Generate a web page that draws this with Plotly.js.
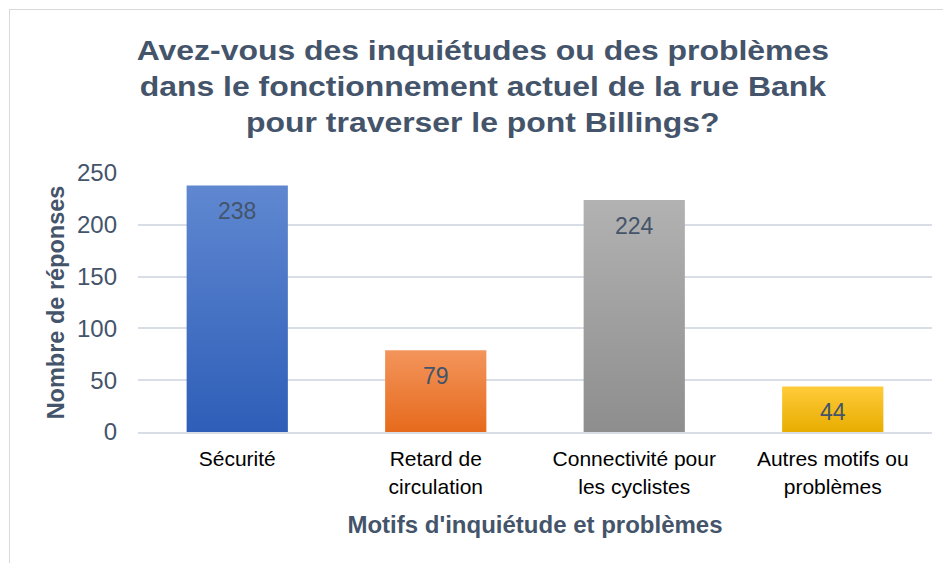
<!DOCTYPE html>
<html>
<head>
<meta charset="utf-8">
<script src="https://cdn.plot.ly/plotly-3.0.1.min.js"></script>
<style>
  html, body { margin: 0; padding: 0; background: #ffffff; }
  #wrap { position: relative; width: 943px; height: 563px; overflow: hidden; }
  #chart { width: 943px; height: 563px; }
  #frame { position: absolute; left: 9px; top: 9px; width: 960px; height: 600px;
           border-left: 1px solid #D9D9D9; border-top: 1px solid #D9D9D9; pointer-events: none; }
</style>
</head>
<body>
<div id="wrap">
  <div id="chart"></div>
  <div id="frame"></div>
</div>
<script>
const categories = ["Sécurité", "Retard de<br>circulation", "Connectivité pour<br>les cyclistes", "Autres motifs ou<br>problèmes"];
const values = [238, 79, 224, 44];
const yTicks = [0, 50, 100, 150, 200, 250];
const barColors = ["#4472C4", "#ED7D31", "#A5A5A5", "#FFC000"];
const gradients = [
  ["#6088D1", "#2E5EB8"],
  ["#F3955C", "#E66A1C"],
  ["#B2B2B2", "#8E8E8E"],
  ["#FFCB3A", "#E8AD00"]
];

const slate = "#44546A";
const font = "Liberation Sans, Arial, sans-serif";

const trace = {
  type: "bar",
  x: categories,
  y: values,
  marker: { color: barColors, line: { width: 0 } },
  hoverinfo: "x+y"
};

const annotations = categories.map((c, i) => ({
  x: c, y: values[i], xref: "x", yref: "y",
  text: String(values[i]), showarrow: false,
  yanchor: "top", yshift: -11,
  font: { family: font, size: 23, color: slate }
}));

const layout = {
  width: 943, height: 563,
  margin: { l: 138, r: 11, t: 173, b: 131 },
  paper_bgcolor: "#ffffff", plot_bgcolor: "#ffffff",
  bargap: 0.49,
  showlegend: false,
  title: {
    text: "Avez-vous des inquiétudes ou des problèmes<br>dans le fonctionnement actuel de la rue Bank<br>pour traverser le pont Billings?",
    font: { family: font, size: 28, color: slate, weight: "bold" },
    xref: "container", x: 0.512, xanchor: "center",
    yref: "container", y: 0.894, yanchor: "top"
  },
  xaxis: {
    type: "category",
    showgrid: false,
    showline: true, linecolor: "#D9DEE6", linewidth: 2,
    ticks: "", ticklabelstandoff: 7,
    tickfont: { family: font, size: 21, color: "#000000" },
    title: { text: "Motifs d'inquiétude et problèmes", standoff: 20,
             font: { family: font, size: 24, color: slate, weight: "bold" } }
  },
  yaxis: {
    range: [0, 250],
    tickvals: yTicks,
    showgrid: true, gridcolor: "#D9DEE6", gridwidth: 2,
    zeroline: false, showline: false,
    ticks: "", ticklabelstandoff: 20,
    tickfont: { family: font, size: 24, color: slate },
    title: { text: "Nombre de réponses", standoff: 5,
             font: { family: font, size: 23.5, color: slate, weight: "bold" } }
  },
  annotations: annotations
};

function applyGradients(gd) {
  const svg = gd.querySelector("svg.main-svg");
  if (!svg) return;
  const ns = "http://www.w3.org/2000/svg";
  let defs = svg.querySelector("defs");
  if (!defs) { defs = document.createElementNS(ns, "defs"); svg.insertBefore(defs, svg.firstChild); }
  gradients.forEach((g, i) => {
    const id = "barGrad" + i;
    if (defs.querySelector("#" + id)) return;
    const lg = document.createElementNS(ns, "linearGradient");
    lg.setAttribute("id", id);
    lg.setAttribute("x1", "0"); lg.setAttribute("y1", "0");
    lg.setAttribute("x2", "0"); lg.setAttribute("y2", "1");
    [[0, g[0]], [1, g[1]]].forEach(([o, c]) => {
      const s = document.createElementNS(ns, "stop");
      s.setAttribute("offset", o); s.setAttribute("stop-color", c);
      lg.appendChild(s);
    });
    defs.appendChild(lg);
  });
  gd.querySelectorAll(".trace.bars .point path").forEach((p, i) => {
    p.style.fill = "url(#barGrad" + i + ")";
  });
}

// The reference title glyphs are slightly wider than Liberation Sans; stretch horizontally.
function stretchTitle(gd, sx) {
  const t = gd.querySelector(".g-gtitle text");
  if (!t) return;
  const cx = parseFloat(t.getAttribute("x")) || 0;
  t.setAttribute("transform", "translate(" + cx + ",0) scale(" + sx + ",1) translate(" + (-cx) + ",0)");
}

const gd = document.getElementById("chart");
Plotly.newPlot(gd, [trace], layout, { displayModeBar: false, responsive: false, staticPlot: true })
  .then(() => { applyGradients(gd); stretchTitle(gd, 1.14); });
</script>
</body>
</html>
